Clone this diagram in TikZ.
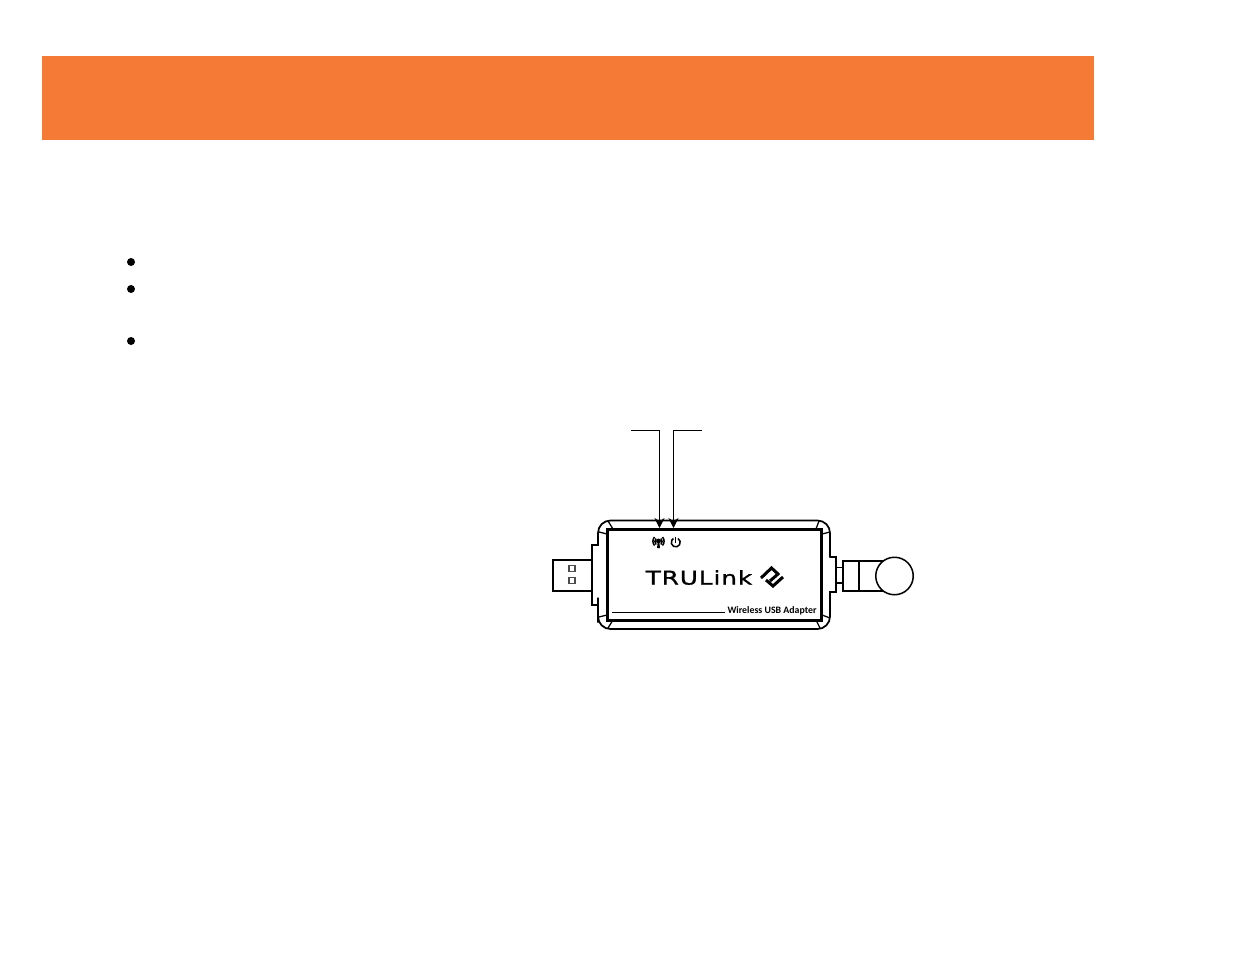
\documentclass[tikz,border=0pt]{standalone}
\usepackage{fontspec}
\setsansfont{Carlito}
\newfontfamily\logofont[FakeStretch=1.3, FakeBold=1.2, LetterSpace=5]{DejaVu Sans}
\usetikzlibrary{calc, arrows.meta}
\tikzset{
    dot/.style={circle, fill=black, inner sep=0, minimum size=0.16cm},
    body/.style={draw, line width=0.035cm},
    thin part/.style={draw, line width=0.025cm},
    face/.style={draw, line width=0.06cm},
    lead/.style={draw, line width=0.02cm, -{Stealth[length=0.2cm, width=0.2cm]}},
}
\definecolor{banner}{HTML}{F47A35}
\begin{document}
\begin{tikzpicture}[x=0.02cm, y=-0.02cm]
        \useasboundingbox (0, 0) rectangle (1235, 954);
        \fill[white] (0, 0) rectangle (1235, 954);
        \node[fill=banner, inner sep=0, minimum width=21.04cm, minimum height=1.68cm] (header) at (568, 98) {};
        \node[dot] (b1) at (131, 262) {};
        \node[dot] (b2) at (131, 289) {};
        \node[dot] (b3) at (131, 341) {};

        % plug
        \draw[thin part] (592, 560) -- (553, 560) -- (553, 591) -- (592, 591);
        \node[thin part, draw=black!70, inner sep=0, minimum width=0.12cm, minimum height=0.13cm] (s1) at (572, 568.5) {};
        \node[thin part, draw=black!70, inner sep=0, minimum width=0.12cm, minimum height=0.13cm] (s2) at (572, 580.5) {};

        % housing
        \draw[body] (714, 520.5) [rounded corners=0.25cm] -- (830, 520.5) -- (830, 545) [sharp corners] -- (830, 557)
            -- (836, 557) -- (836, 592) -- (830, 592) -- (830, 610) [rounded corners=0.25cm] -- (830, 629) -- (598, 629)
            -- (598, 610) [sharp corners] -- (598, 605) -- (592, 605) -- (592, 545) -- (598, 545)
            -- (598, 535) [rounded corners=0.25cm] -- (598, 520.5) -- (714, 520.5);
        \draw[thin part] (608, 521) -- (613, 529) (599, 532) -- (607, 534);
        \draw[thin part] (819, 521) -- (816, 529) (822, 534) -- (830, 532);
        \draw[thin part] (599, 617) -- (607, 615) (608, 628) -- (613, 620);
        \draw[thin part] (816, 620) -- (820, 628) (822, 615) -- (830, 618);
        \draw[face] (607, 529) rectangle (821.5, 620);

        % antenna end
        \draw[thin part] (836, 567.5) -- (843, 567.5) (836, 583) -- (843, 583);
        \draw[thin part] (843, 561) rectangle (859, 591);
        \draw[thin part] (859, 561) -- (885, 561) (859, 591) -- (885, 591);
        \node[draw, fill=white, circle, line width=0.03cm, inner sep=0, minimum size=0.75cm] (cap) at (894.5, 576) {};

        % front text
        \node[inner sep=0, font=\logofont\fontsize{10.8}{12}\selectfont] (logo) at (699, 577.5) {TRULink};
        \node[inner sep=0, font=\sffamily\bfseries\fontsize{5.6}{7}\selectfont] (name) at (772, 610.5) {Wireless USB Adapter};
        \coordinate (rule) at (612, 612.5);
        \coordinate (rule end) at ($(name.west |- rule)+(-2, 0)$);
        \draw[line width=0.025cm] (rule) -- (rule end);

        % mark
        \coordinate (mark) at (771, 577);
        \draw[line width=0.06cm] ($(mark)+(-10, 1)$) -- ($(mark)+(0.5, -9)$) -- ($(mark)+(7, -3)$) -- ($(mark)+(-1, 4)$);
        \draw[line width=0.06cm] ($(mark)+(12, 0)$) -- ($(mark)+(2, 9)$) -- ($(mark)+(-5, 3)$);

        % leds
        \coordinate (wifi) at (658.5, 542);
        \coordinate (power) at (675.5, 542.5);
        \fill ($(wifi)+(-1.5, 6)$) -- ($(wifi)+(-0.5, -2)$) -- ($(wifi)+(0.5, -2)$) -- ($(wifi)+(1.5, 6)$) -- cycle;
        \fill ($(wifi)+(0, -1)$) circle[radius=0.05cm];
        \draw[line width=0.03cm] ($(wifi)+(-2.5, -3.5)$) to[bend right=40] ($(wifi)+(-2.5, 2.5)$);
        \draw[line width=0.03cm] ($(wifi)+(-4, -5)$) to[bend right=40] ($(wifi)+(-4, 3.5)$);
        \draw[line width=0.03cm] ($(wifi)+(2.5, -3.5)$) to[bend left=40] ($(wifi)+(2.5, 2.5)$);
        \draw[line width=0.03cm] ($(wifi)+(4, -5)$) to[bend left=40] ($(wifi)+(4, 3.5)$);
        \draw[line width=0.03cm] ($(power)+(2.5, -4)$) arc[start angle=60, end angle=-240, radius=0.09cm];
        \draw[line width=0.03cm] ($(power)+(0, -6)$) -- (power);

        % leaders
        \coordinate (w0) at (631, 430);
        \coordinate (w1) at (659.5, 430);
        \coordinate (w2) at (659.5, 528);
        \coordinate (p0) at (702, 430);
        \coordinate (p1) at (673.5, 430);
        \coordinate (p2) at (673.5, 528);
        \draw[lead] (w0) -- (w1) -- (w2);
        \draw[lead] (p0) -- (p1) -- (p2);
\end{tikzpicture}
\end{document}
